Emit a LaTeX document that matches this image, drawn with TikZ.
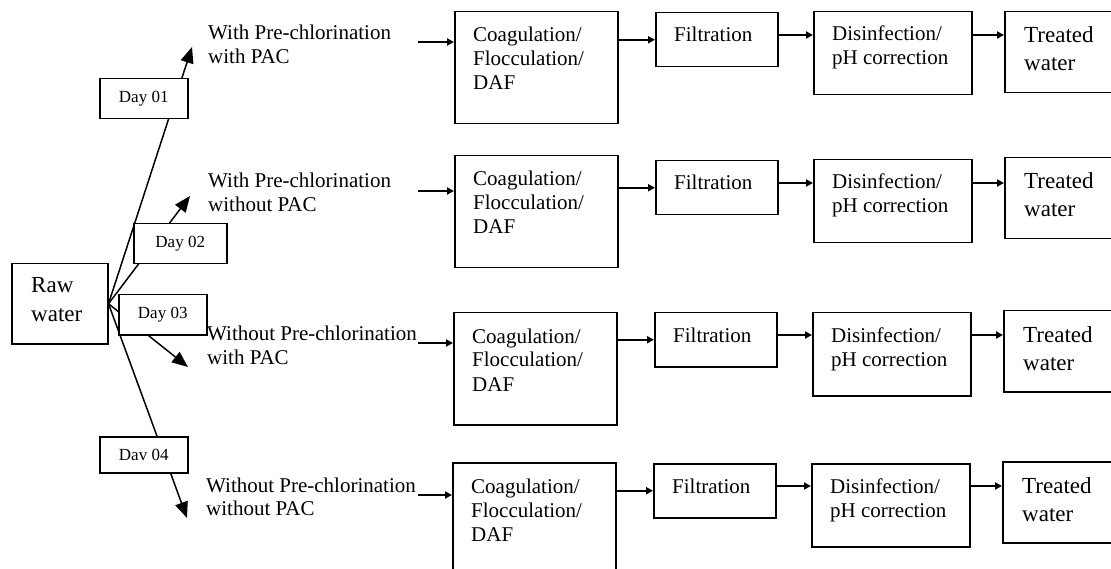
\documentclass[tikz,border=0pt]{standalone}
\usepackage{fontspec}
\setmainfont{Liberation Serif}
\usetikzlibrary{arrows.meta,calc}
\newcommand{\mltext}[3]{\fontsize{#1}{#2}\selectfont\begin{tabular}[t]{@{}l@{}}#3\end{tabular}}
\begin{document}
\begin{tikzpicture}[x=1pt,y=-1pt,
  box/.style={draw,line width=1.5pt,fill=white,inner sep=0pt,anchor=north west},
  lbl/.style={inner sep=0pt,anchor=base west},
  flow/.style={line width=2pt,-{Triangle[length=7pt,width=7pt]}},
  fan/.style={line width=1.5pt,-{Triangle[length=16pt,width=13pt]}},
  daybox/.style={draw,line width=1.5pt,fill=white,inner sep=0pt,anchor=north west,font=\fontsize{17}{20}\selectfont}]
\useasboundingbox (0,0) rectangle (1111,569);
\clip (0,0) rectangle (1111,569);

% raw water
\node[box,minimum width=96pt,minimum height=80pt] (raw) at (11,263) {};
\node[lbl] (rawt) at ($(raw.north west)+(20,30)$) {\mltext{23}{29}{Raw\\water}};

% fan arrows
\coordinate (t1) at (192,47);
\coordinate (t2) at (190,196);
\coordinate (t3) at (188,367);
\coordinate (t4) at (187,518);
\foreach \k in {1,2,3,4}{\draw[fan] (raw.east) -- (t\k);}

% day boxes
\node[daybox,minimum width=88pt,minimum height=40pt] (d1) at (99,78) {Day 01};
\node[daybox,minimum width=93pt,minimum height=40pt] (d2) at (133,223) {Day 02};
\node[daybox,minimum width=88pt,minimum height=40pt] (d3) at (118,294) {Day 03};
\node[daybox,minimum width=88pt,minimum height=36pt] (d4) at (99,436) {Dav 04};

% option labels
\node[lbl] (l1) at (208,40) {\mltext{21}{23.5}{With Pre-chlorination\\with PAC}};
\node[lbl] (l2) at (208,188) {\mltext{21}{23.5}{With Pre-chlorination\\without PAC}};
\node[lbl] (l3) at (207,341) {\mltext{21}{23.5}{Without Pre-chlorination\\with PAC}};
\node[lbl] (l4) at (206,492) {\mltext{21}{23.5}{Without Pre-chlorination\\without PAC}};

% treatment rows
\foreach \i/\rc/\rf/\rd/\rw/\dx/\ain in {1/11/12/11/11/0/42, 2/155/160/159/157/0/191, 3/312/312/312/310/-1/343, 4/462/463/463/461/-2/495}{
  \node[box,minimum width=163pt,minimum height=112pt] (c\i) at ({454+(\dx)},\rc) {};
  \node[lbl] (ct\i) at ($(c\i.north west)+(19,31)$) {\mltext{21}{24}{Coagulation/\\Flocculation/\\DAF}};
  \node[box,minimum width=122pt,minimum height=54pt] (f\i) at ({655+(\dx)},\rf) {};
  \node[lbl] (ft\i) at ($(f\i.north west)+(19,30)$) {\mltext{21}{24}{Filtration}};
  \node[box,minimum width=158pt,minimum height=83pt] (s\i) at ({813+(\dx)},\rd) {};
  \node[lbl] (st\i) at ($(s\i.north west)+(19,30)$) {\mltext{21}{24}{Disinfection/\\pH correction}};
  \node[box,minimum width=140pt,minimum height=81pt] (w\i) at ({1004+(\dx)},\rw) {};
  \node[lbl] (wt\i) at ($(w\i.north west)+(20,32)$) {\mltext{23}{28}{Treated\\water}};
  \coordinate (in\i) at (418,\ain);
  \draw[flow] (in\i) -- (in\i -| c\i.west);
  \draw[flow] (c\i.east |- f\i.west) -- (f\i.west);
  \coordinate (fs\i) at ($(f\i.north east)+(0,23)$);
  \draw[flow] (fs\i) -- (fs\i -| s\i.west);
  \draw[flow] (fs\i -| s\i.east) -- (fs\i -| w\i.west);
}
\end{tikzpicture}
\end{document}
